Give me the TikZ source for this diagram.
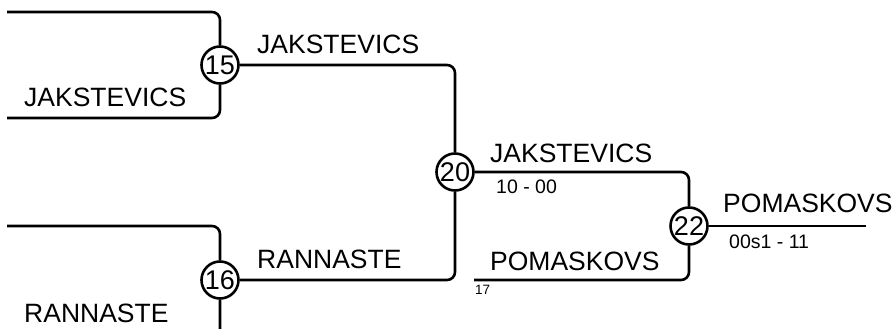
\documentclass[tikz,border=0pt]{standalone}
\usepackage{fontspec}
\setmainfont{Liberation Sans}
\begin{document}
\begin{tikzpicture}[x=1pt,y=-1pt,
  wire/.style={line width=2.6pt, rounded corners=8pt},
  seedbox/.style={circle, draw, line width=2.6pt, minimum size=37pt, inner sep=0pt, fill=white, font=\fontsize{27}{27}\selectfont},
  plname/.style={anchor=base west, inner sep=0pt, font=\fontsize{26.5}{26.5}\selectfont},
  scoretxt/.style={anchor=base west, inner sep=0pt, font=\fontsize{19.5}{19.5}\selectfont},
  smalltxt/.style={anchor=base west, inner sep=0pt, font=\fontsize{13.5}{13.5}\selectfont}]
\clip (0,0) rectangle (894,329);
\node[seedbox] (c15) at (220,65) {15};
\node[seedbox] (c16) at (220,280) {16};
\node[seedbox] (c20) at (455,172) {20};
\node[seedbox] (c22) at (689,226) {22};
\coordinate (t1) at (7,12);
\coordinate (t2) at (7,118);
\coordinate (b1) at (7,226);
\coordinate (b2) at (7,340);
\coordinate (p1) at (474,280);
\coordinate (w1) at (866,226);
\draw[wire] (t1) -- (c15.north |- t1) -- (c15.north);
\draw[wire] (c15.south) -- (c15.south |- t2) -- (t2);
\draw[wire] (b1) -- (c16.north |- b1) -- (c16.north);
\draw[wire] (c16.south) -- (c16.south |- b2) -- (b2);
\draw[wire] (c15.east) -- (c20.north |- c15.east) -- (c20.north);
\draw[wire] (c16.east) -- (c20.south |- c16.east) -- (c20.south);
\draw[wire] (c20.east) -- (c22.north |- c20.east) -- (c22.north);
\draw[wire] (p1) -- (c22.south |- p1) -- (c22.south);
\draw[line width=2.6pt] (c22.east) -- (w1);
\node[plname] (n1) at (24,106) {JAKSTEVICS};
\node[plname] (n2) at (257,53) {JAKSTEVICS};
\node[plname] (n3) at (257,268) {RANNASTE};
\node[plname] (n4) at (24,322) {RANNASTE};
\node[plname] (n5) at (490,162) {JAKSTEVICS};
\node[scoretxt] (s1) at (496,193) {10 - 00};
\node[plname] (n6) at (490,270) {POMASKOVS};
\node[smalltxt] (s2) at (475,294) {17};
\node[plname] (n7) at (723,212) {POMASKOVS};
\node[scoretxt] (s3) at (729,248) {00s1 - 11};
\end{tikzpicture}
\end{document}
